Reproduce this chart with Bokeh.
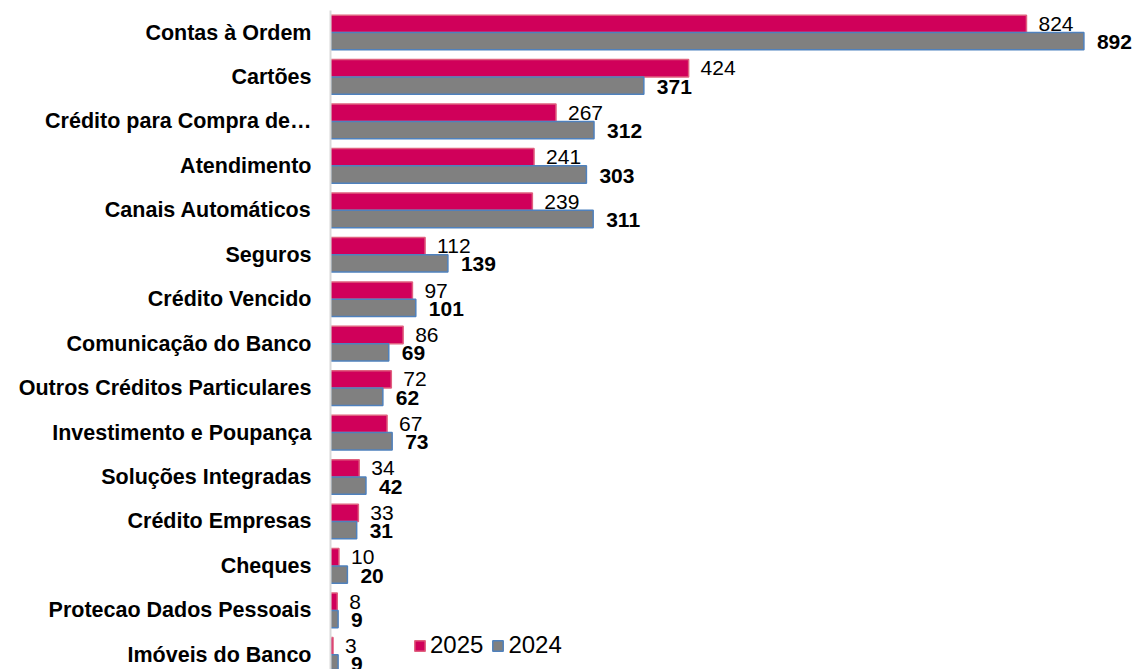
from bokeh.plotting import figure
from bokeh.models import ColumnDataSource, Range1d, Legend, LegendItem, FixedTicker
from bokeh.core.properties import value
from bokeh.embed import file_html
from bokeh.resources import INLINE

categories = [
    "Contas à Ordem", "Cartões", "Crédito para Compra de…", "Atendimento",
    "Canais Automáticos", "Seguros", "Crédito Vencido", "Comunicação do Banco",
    "Outros Créditos Particulares", "Investimento e Poupança", "Soluções Integradas",
    "Crédito Empresas", "Cheques", "Protecao Dados Pessoais", "Imóveis do Banco",
]
values_2025 = [824, 424, 267, 241, 239, 112, 97, 86, 72, 67, 34, 33, 10, 8, 3]
values_2024 = [892, 371, 312, 303, 311, 139, 101, 69, 62, 73, 42, 31, 20, 9, 9]

FONT = "Liberation Sans"
C25 = "#D0005A"
C25_LINE = "#E0607F"
C24 = "#808080"
C24_LINE = "#4F81BD"

idx = list(range(len(categories)))
bar_h = 0.39
src25 = ColumnDataSource(dict(y=[i - bar_h / 2 for i in idx], v=values_2025,
                              t=[str(v) for v in values_2025]))
src24 = ColumnDataSource(dict(y=[i + bar_h / 2 for i in idx], v=values_2024,
                              t=[str(v) for v in values_2024]))

p = figure(width=1140, height=669, output_backend="svg", toolbar_location=None,
           x_range=Range1d(0, 959), y_range=Range1d(14.33, -0.495),
           min_border_left=330, min_border_right=0, min_border_top=10,
           min_border_bottom=0)
p.outline_line_color = None
p.xgrid.visible = False
p.ygrid.visible = False
p.xaxis.visible = False

r25 = p.hbar(y="y", right="v", left=0, height=bar_h, source=src25,
             fill_color=C25, line_color=C25_LINE, line_width=1.5)
r24 = p.hbar(y="y", right="v", left=0, height=bar_h, source=src24,
             fill_color=C24, line_color=C24_LINE, line_width=1.5)

p.text(x="v", y="y", text="t", source=src25, x_offset=12, y_offset=0,
       text_baseline="middle", text_align="left",
       text_font=value(FONT), text_font_size="21px", text_color="black")
p.text(x="v", y="y", text="t", source=src24, x_offset=13, y_offset=1,
       text_baseline="middle", text_align="left",
       text_font=value(FONT), text_font_size="21px", text_font_style="bold",
       text_color="black")

ax = p.yaxis[0]
ax.ticker = FixedTicker(ticks=idx)
ax.major_label_overrides = {i: c for i, c in enumerate(categories)}
ax.major_label_text_font = FONT
ax.major_label_text_font_size = "21.5px"
ax.major_label_text_font_style = "bold"
ax.major_label_text_color = "black"
ax.major_label_standoff = 13
ax.major_tick_line_color = None
ax.minor_tick_line_color = None
ax.axis_line_color = "#D9D9D9"
ax.axis_line_width = 2

legend = Legend(items=[LegendItem(label="2025", renderers=[r25]),
                       LegendItem(label="2024", renderers=[r24])],
                orientation="horizontal", location=(83, 10),
                label_text_font=FONT, label_text_font_size="24px",
                label_text_color="black",
                glyph_width=13, glyph_height=13, spacing=8, padding=2,
                label_standoff=4, border_line_color=None,
                background_fill_alpha=0)
p.add_layout(legend)

open("out.html", "w").write(file_html(p, INLINE))
